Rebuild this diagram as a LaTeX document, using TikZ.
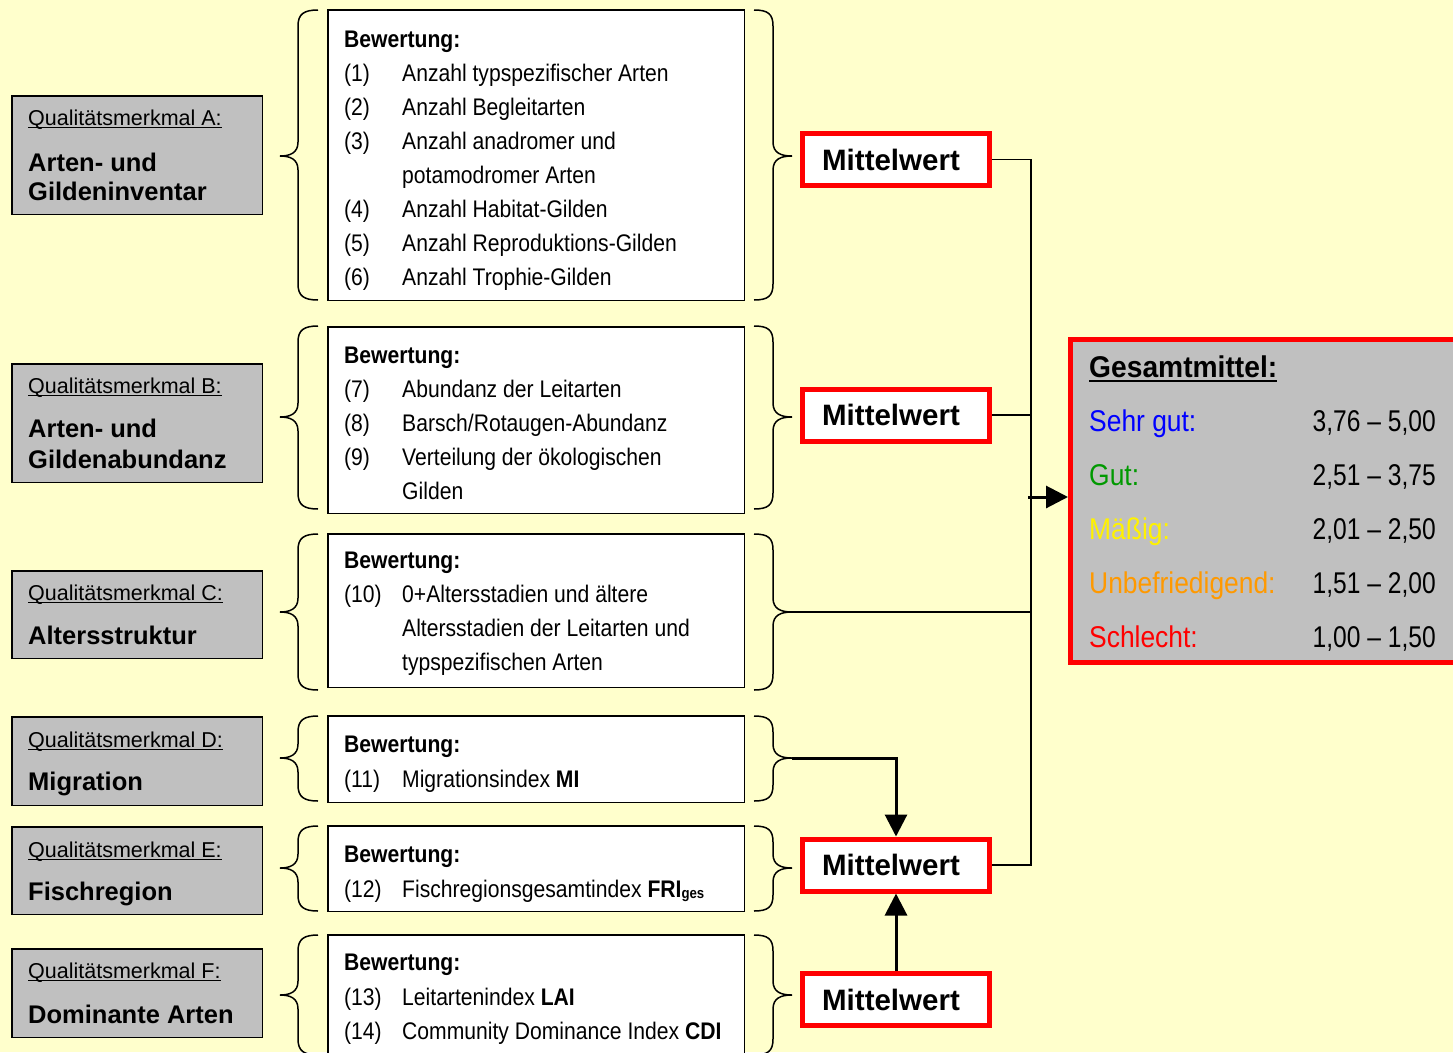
\documentclass[tikz,border=0pt]{standalone}
\usepackage{fontspec}
\setmainfont{Liberation Sans}
\newfontfamily\nar[FakeStretch=0.88]{Liberation Sans}
\newfontfamily\narv[FakeStretch=0.82]{Liberation Sans}
\newfontfamily\nars[FakeStretch=0.94]{Liberation Sans}
\usetikzlibrary{arrows.meta}
\definecolor{bg}{RGB}{255,255,204}
\definecolor{gr}{RGB}{192,192,192}
\definecolor{grn}{RGB}{0,153,0}
\definecolor{orn}{RGB}{255,153,0}
\newcommand\rbx[7]{\node[#2, anchor=north west, minimum width={#5-#3-#7}, minimum height={#6-#4-#7}] (#1) at (#3,#4) {};}
\newcommand\qualt[3]{\node[qualtxt] (#1) at (28,#2) {#3};
  \draw[line width=1.2pt] ([yshift=-2.5pt]#1.base west) -- ([yshift=-2.5pt]#1.base east);}
\newcommand\itm[4]{\node[itxt] (#1n) at (344,#2) {#3}; \node[itxt] (#1t) at (402,#2) {#4};}
\newcommand\lbr[4]{\draw[brace] (318,#1) .. controls (304,#1) and (298,#1+4) .. (298,#1+16) -- (298,#2-14)
   .. controls (298,#2-3) and (290,#2) .. (280,#2) .. controls (290,#2) and (298,#2+3) .. (298,#2+14)
   -- (298,#3-16) .. controls (298,#3-4) and (304,#3) .. (318,#3);
   \coordinate (#4) at (280,#2);}
\newcommand\rbr[4]{\draw[brace] (754,#1) .. controls (768,#1) and (773,#1+4) .. (773,#1+16) -- (773,#2-14)
   .. controls (773,#2-3) and (781,#2) .. (792,#2) .. controls (781,#2) and (773,#2+3) .. (773,#2+14)
   -- (773,#3-16) .. controls (773,#3-4) and (768,#3) .. (754,#3);
   \coordinate (#4) at (792,#2);}
\begin{document}
\begin{tikzpicture}[x=1pt,y=-1pt,
  graybox/.style={draw=black, line width=1.5pt, fill=gr, inner sep=0pt},
  whitebox/.style={draw=black, line width=1.5pt, fill=white, inner sep=0pt},
  gbox/.style={draw=red, line width=5pt, fill=gr, inner sep=0pt},
  brace/.style={draw=black, line width=1.5pt},
  mw/.style={draw=red, line width=5pt, fill=white, minimum width=187pt, minimum height=52pt, inner sep=0pt,
     font=\fontsize{29.5}{30}\selectfont\bfseries},
  qualtxt/.style={anchor=base west, inner sep=0pt, font=\fontsize{21.5}{24}\selectfont},
  boldtxt/.style={anchor=base west, inner sep=0pt, font=\fontsize{25.5}{28}\selectfont\bfseries},
  itxt/.style={anchor=base west, inner sep=0pt, font=\nar\fontsize{24}{28}\selectfont},
  btxt/.style={anchor=base west, inner sep=0pt, font=\nar\fontsize{24}{28}\selectfont\bfseries},
  glab/.style={anchor=base west, inner sep=0pt, font=\nar\fontsize{30}{32}\selectfont},
  gval/.style={anchor=base east, inner sep=0pt, font=\narv\fontsize{30}{32}\selectfont},
  bus/.style={draw=black, line width=1.5pt},
  arr/.style={draw=black, line width=3pt, -{Triangle[length=22pt,width=22pt]}}
]
\useasboundingbox (0,0) rectangle (1453,1052);
\clip (0,0) rectangle (1453,1052);
\fill[bg] (0,0) rectangle (1453,1052);

% left grey boxes
\rbx{ga}{graybox}{11}{95}{263}{215}{1.5}
\rbx{gb}{graybox}{11}{363}{263}{483}{1.5}
\rbx{gc}{graybox}{11}{570}{263}{659}{1.5}
\rbx{gd}{graybox}{11}{716}{263}{806}{1.5}
\rbx{ge}{graybox}{11}{826}{263}{915}{1.5}
\rbx{gf}{graybox}{11}{948}{263}{1038}{1.5}

\qualt{qa}{125}{Qualitätsmerkmal A:}
\node[boldtxt] (la1) at (28,171) {Arten- und};
\node[boldtxt] (la2) at (28,200) {Gildeninventar};
\qualt{qb}{393}{Qualitätsmerkmal B:}
\node[boldtxt] (lb1) at (28,437) {Arten- und};
\node[boldtxt] (lb2) at (28,468) {Gildenabundanz};
\qualt{qc}{600}{Qualitätsmerkmal C:}
\node[boldtxt] (lc1) at (28,644) {Altersstruktur};
\qualt{qd}{747}{Qualitätsmerkmal D:}
\node[boldtxt] (ld1) at (28,790) {Migration};
\qualt{qe}{857}{Qualitätsmerkmal E:}
\node[boldtxt] (le1) at (28,900) {Fischregion};
\qualt{qf}{978}{Qualitätsmerkmal F:}
\node[boldtxt] (lf1) at (28,1023) {Dominante Arten};

% braces
\lbr{10}{156}{300}{la}
\rbr{10}{156}{300}{ra}
\lbr{326}{417}{509}{lb}
\rbr{326}{417}{509}{rb}
\lbr{534}{612}{690}{lc}
\rbr{534}{612}{690}{rc}
\lbr{716}{758}{801}{ld}
\rbr{716}{758}{801}{rd}
\lbr{826}{868}{911}{le}
\rbr{826}{868}{911}{re}
\lbr{935}{995}{1055}{lf}
\rbr{935}{995}{1055}{rf}

% white boxes
\rbx{w1}{whitebox}{327}{9}{745}{301}{1.5}
\rbx{w2}{whitebox}{327}{326}{745}{514}{1.5}
\rbx{w3}{whitebox}{327}{533}{745}{688}{1.5}
\rbx{w4}{whitebox}{327}{715}{745}{803}{1.5}
\rbx{w5}{whitebox}{327}{825}{745}{912}{1.5}
\rbx{w6}{whitebox}{327}{934}{745}{1080}{1.5}

\node[btxt] (b1) at (344,47) {Bewertung:};
\itm{i1}{81}{(1)}{Anzahl typspezifischer Arten}
\itm{i2}{115}{(2)}{Anzahl Begleitarten}
\itm{i3}{149}{(3)}{Anzahl anadromer und}
\node[itxt] (i3b) at (402,183) {potamodromer Arten};
\itm{i4}{217}{(4)}{Anzahl Habitat-Gilden}
\itm{i5}{251}{(5)}{Anzahl Reproduktions-Gilden}
\itm{i6}{285}{(6)}{Anzahl Trophie-Gilden}

\node[btxt] (b2) at (344,363) {Bewertung:};
\itm{i7}{397}{(7)}{Abundanz der Leitarten}
\itm{i8}{431}{(8)}{Barsch/Rotaugen-Abundanz}
\itm{i9}{465}{(9)}{Verteilung der ökologischen}
\node[itxt] (i9b) at (402,499) {Gilden};

\node[btxt] (b3) at (344,568) {Bewertung:};
\itm{i10}{602}{(10)}{0+Altersstadien und ältere}
\node[itxt] (i10b) at (402,636) {Altersstadien der Leitarten und};
\node[itxt] (i10c) at (402,670) {typspezifischen Arten};

\node[btxt] (b4) at (344,752) {Bewertung:};
\itm{i11}{787}{(11)}{Migrationsindex \textbf{MI}}

\node[btxt] (b5) at (344,862) {Bewertung:};
\itm{i12}{897}{(12)}{Fischregionsgesamtindex \textbf{FRI}\raisebox{-1pt}{\fontsize{15}{15}\selectfont\bfseries ges}}

\node[btxt] (b6) at (344,970) {Bewertung:};
\itm{i13}{1005}{(13)}{Leitartenindex \textbf{LAI}}
\itm{i14}{1039}{(14)}{Community Dominance Index \textbf{CDI}}

% Mittelwert boxes
\node[mw] (m1) at (896,159.5) {Mittelwert\hspace*{10pt}};
\node[mw] (m2) at (896,415) {Mittelwert\hspace*{10pt}};
\node[mw] (m3) at (896,865) {Mittelwert\hspace*{10pt}};
\node[mw] (m4) at (896,999.5) {Mittelwert\hspace*{10pt}};

% Gesamtmittel box
\rbx{g}{gbox}{1068}{337}{1480}{665}{5}
\node[anchor=base west, inner sep=0pt, font=\nars\fontsize{30}{32}\selectfont\bfseries] (gt) at (1089,377) {Gesamtmittel:};
\draw[line width=2pt] ([yshift=-4pt]gt.base west) -- ([yshift=-4pt]gt.base east);
\node[glab, text=blue] (g1l) at (1089,431) {Sehr gut:};
\node[gval] (g1v) at (1436,431) {3,76 – 5,00};
\node[glab, text=grn] (g2l) at (1089,485) {Gut:};
\node[gval] (g2v) at (1436,485) {2,51 – 3,75};
\node[glab, text=yellow] (g3l) at (1089,539) {Mäßig:};
\node[gval] (g3v) at (1436,539) {2,01 – 2,50};
\node[glab, text=orn] (g4l) at (1089,593) {Unbefriedigend:};
\node[gval] (g4v) at (1436,593) {1,51 – 2,00};
\node[glab, text=red] (g5l) at (1089,647) {Schlecht:};
\node[gval] (g5v) at (1436,647) {1,00 – 1,50};

% connectors
\coordinate (bx) at (1031,0);
\draw[bus] (m1.east) -- (m1.east -| bx) -- (m3.east -| bx) -- (m3.east);
\draw[bus] (m2.east) -- (m2.east -| bx);
\draw[bus] (rc) -- (rc -| bx);
\coordinate (ain) at (1028,497);
\draw[arr] (ain) -- (ain -| g.west);
\draw[arr] (rd) -| (m3.north);
\draw[arr] (m4.north) -- (m3.south);
\end{tikzpicture}
\end{document}
